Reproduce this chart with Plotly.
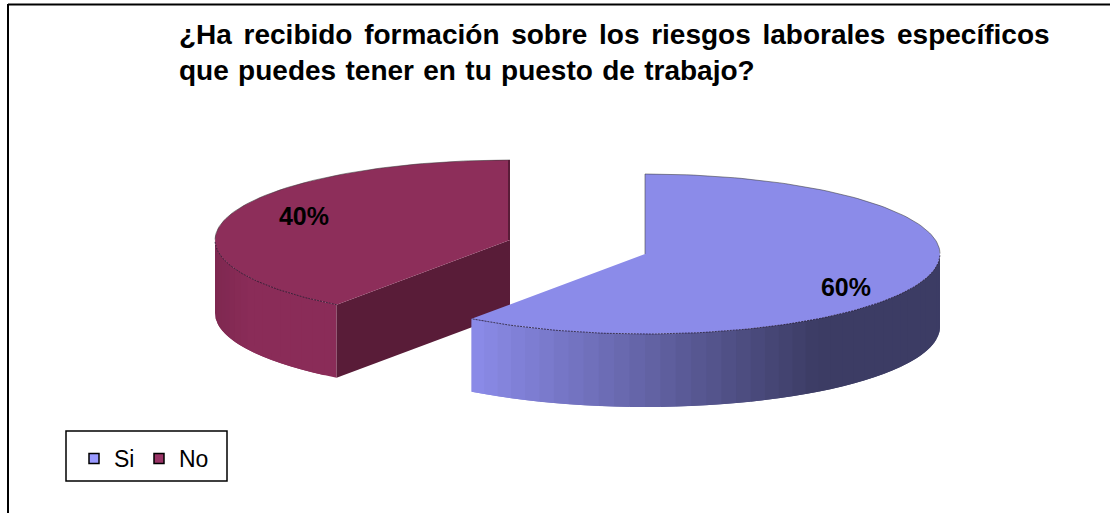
import numpy as np
import plotly.graph_objects as go

categories = ["Si", "No"]
values = [60, 40]
legend_colors = ["#9999FF", "#993366"]
top_colors = ["#8B8BE9", "#8D2E5A"]
GAP = "\u2005\u2006"
GAP2 = "\u2004"
title_lines = [GAP.join(["¿Ha", "recibido", "formación", "sobre", "los", "riesgos", "laborales", "específicos"]),
               GAP2.join(["que", "puedes", "tener", "en", "tu", "puesto", "de", "trabajo?"])]

W, H = 1110, 513
A, B, DEPTH = 295, 80, 73
CENTERS = {"Si": (645, 254), "No": (510, 240)}
LABELS = {"Si": (846, 290), "No": (304, 219)}

fracs = np.array(values) / sum(values)
edges = np.concatenate([[0], np.cumsum(fracs)]) * 2 * np.pi


def rim(c, t, dz=0):
    return c[0] + A * np.sin(t), c[1] - B * np.cos(t) + dz


def mix(a, b, f):
    return "rgb(%d,%d,%d)" % tuple(round(x + (y - x) * f) for x, y in zip(a, b))


fig = go.Figure()


def poly(xs, ys, color):
    fig.add_trace(go.Scatter(
        x=list(xs), y=list(ys), mode="lines", fill="toself", fillcolor=color,
        line=dict(color=color, width=0),
        hoverinfo="skip", showlegend=False))


def side_strips(c, t0, t1, shade, n=48):
    ts = np.linspace(t0, t1, n + 1)
    step = ts[1] - ts[0]
    # each strip runs a little under the next one, so that no seams show
    for a, b in zip(ts[:-1], ts[1:]):
        if np.cos((a + b) / 2) > 0:
            continue  # back of the pie is hidden
        mid = rim(c, (a + b) / 2)[0]
        seg = np.linspace(a, min(b + step, t1), 6)
        xs, ys = rim(c, seg)
        poly(np.r_[xs, xs[::-1]], np.r_[ys, ys[::-1] + DEPTH], shade(mid))


def top_face(c, t0, t1, color):
    ts = np.linspace(t0, t1, 160)
    xs, ys = rim(c, ts)
    poly(np.r_[c[0], xs, c[0]], np.r_[c[1], ys, c[1]], color)
    front = np.cos(ts) < 0
    fig.add_trace(go.Scatter(x=xs[front], y=ys[front], mode="lines",
                             line=dict(color="rgba(30,20,40,0.75)", width=1, dash="2px,1px"),
                             hoverinfo="skip", showlegend=False))
    back = ~front
    fig.add_trace(go.Scatter(x=xs[back], y=ys[back], mode="lines",
                             line=dict(color="rgba(60,60,60,0.55)", width=1),
                             hoverinfo="skip", showlegend=False))


# --- No slice (drawn first, Si overlaps it)
cn = CENTERS["No"]
t0, t1 = edges[1], edges[2]
side_strips(cn, t0, t1, lambda x: "#8A2C58" if x > 250 else mix((0x7E, 0x28, 0x50), (0x8A, 0x2C, 0x58), (x - 215) / 35))
x0, y0 = rim(cn, t0)
poly([x0, cn[0], cn[0], x0], [y0, cn[1], cn[1] + DEPTH, y0 + DEPTH], "#591C38")
top_face(cn, t0, t1, top_colors[1])
fig.add_trace(go.Scatter(x=[cn[0] - 1, cn[0] - 1], y=[cn[1] - B, cn[1]], mode="lines",
                         line=dict(color="#591C38", width=2), hoverinfo="skip", showlegend=False))

# --- Si slice
cs = CENTERS["Si"]
t0, t1 = edges[0], edges[1]
light, dark = (0x8B, 0x8B, 0xE9), (0x3C, 0x3C, 0x64)
xl = rim(cs, t1)[0]
side_strips(cs, t0, t1, lambda x: mix(light, dark, min(1, max(0, (x - xl) / 345))), n=72)
top_face(cs, t0, t1, top_colors[0])
fig.add_trace(go.Scatter(x=[cs[0], cs[0]], y=[cs[1] - B, cs[1]], mode="lines",
                         line=dict(color="rgba(70,70,70,0.6)", width=1), hoverinfo="skip", showlegend=False))

# --- percent labels
fig.add_trace(go.Scatter(
    x=[LABELS[c][0] for c in categories], y=[LABELS[c][1] for c in categories],
    mode="text", text=[f"{v}%" for v in values],
    textfont=dict(family="Liberation Sans", size=25, color="black", weight="bold"),
    hoverinfo="skip", showlegend=False))

# --- legend entries: one legend per entry, so each can sit where the reference has it
for name, col, leg in zip(categories, legend_colors, ["legend", "legend2"]):
    fig.add_trace(go.Scatter(x=[None], y=[None], mode="markers", name=name, legend=leg,
                             showlegend=True,
                             marker=dict(symbol="square", size=10, color=col,
                                         line=dict(color="black", width=1.5))))

frame = dict(color="black", width=2)
legend_style = dict(orientation="h", y=1 - 437 / H, xanchor="left", yanchor="top",
                    bgcolor="rgba(0,0,0,0)", borderwidth=0,
                    font=dict(family="Liberation Sans", size=23, color="black"),
                    itemclick=False, itemdoubleclick=False)
fig.update_layout(
    width=W, height=H, autosize=False,
    margin=dict(l=0, r=0, t=0, b=0),
    paper_bgcolor="white", plot_bgcolor="white",
    xaxis=dict(range=[0, W], visible=False, fixedrange=True),
    yaxis=dict(range=[H, 0], visible=False, fixedrange=True),
    title=dict(text="<br>".join(title_lines), x=179 / W, xanchor="left", xref="paper",
               y=1 - 44 / H, yanchor="top", yref="container",
               font=dict(family="Liberation Sans", size=28, color="black", weight="bold")),
    legend=dict(x=74 / W, **legend_style),
    legend2=dict(x=139 / W, **legend_style),
    shapes=[
        dict(type="line", xref="x", yref="y", x0=8, x1=8, y0=4, y1=H, line=frame),
        dict(type="line", xref="x", yref="y", x0=8, x1=W, y0=4.5, y1=4.5, line=frame),
        dict(type="rect", xref="x", yref="y", x0=66, x1=227, y0=431, y1=481,
             line=dict(color="black", width=1.5), fillcolor="white", layer="below"),
    ],
)

fig.write_html("out.html", post_script="document.body.style.margin='0';",
               config={"displayModeBar": False})
